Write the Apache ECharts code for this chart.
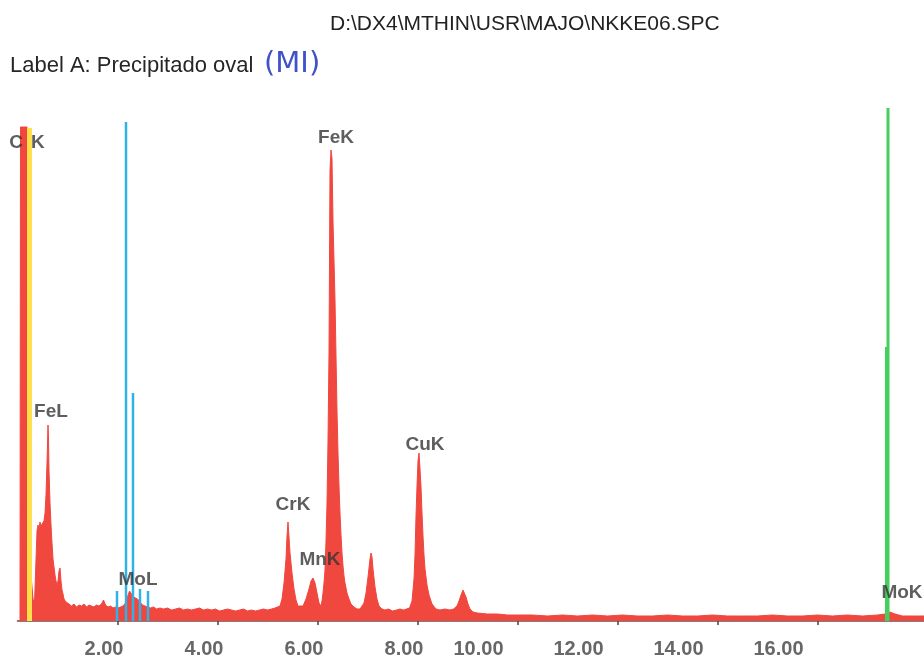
<!DOCTYPE html>
<html>
<head>
<meta charset="utf-8">
<script src="https://cdn.jsdelivr.net/npm/echarts@6/dist/echarts.min.js"></script>
<style>
html,body{margin:0;padding:0;background:#fff}
#chart{width:924px;height:665px}
</style>
</head>
<body>
<div id="chart"></div>
<script>
// Header texts
const fileName = 'D:\\DX4\\MTHIN\\USR\\MAJO\\NKKE06.SPC';
const sampleLabel = 'Label A: Precipitado oval';
const sampleTag = '(MI)';

// EDS spectrum: [energy keV, counts]
const spectrum = [
  [0.00,0],[0.05,0],[0.06,494],[0.12,494],[0.19,494],[0.20,272],[0.24,270],[0.26,150],[0.28,40],[0.31,22],[0.34,18],[0.38,20],
  [0.39,90],[0.41,96],[0.43,92],[0.45,99],[0.47,94],[0.49,97],[0.51,95],[0.53,100],[0.55,108],[0.57,126],[0.59,158],
  [0.61,196],[0.62,182],[0.63,150],[0.65,118],[0.67,96],[0.69,78],[0.71,62],[0.73,54],[0.75,46],[0.77,40],[0.79,36],
  [0.81,40],[0.83,50],[0.85,53],[0.87,40],[0.89,31],[0.91,27],[0.93,22],[0.95,24],[0.97,19],[0.99,18],
  [1.03,17],[1.08,15],[1.13,17],[1.18,14],[1.23,16],[1.28,15],[1.33,17],[1.38,14],[1.43,16],[1.48,15],[1.53,14],
  [1.58,16],[1.63,15],[1.68,17],[1.72,21],[1.76,16],[1.81,14],[1.86,15],[1.91,13],[1.96,14],[2.01,13],
  [2.06,14],[2.11,15],[2.16,18],[2.20,24],[2.24,30],[2.28,27],[2.32,24],[2.36,26],[2.40,22],[2.45,19],[2.50,16],
  [2.55,15],[2.60,14],[2.66,13],[2.72,14],[2.78,12],
  [2.85,13],[2.92,12],[3.00,13],[3.08,11],[3.16,12],[3.24,13],[3.32,11],[3.40,12],[3.48,11],[3.56,12],[3.64,13],
  [3.72,11],[3.80,12],[3.88,11],[3.96,12],[4.04,10],[4.12,11],[4.20,12],[4.28,11],[4.36,10],[4.44,11],[4.52,12],
  [4.60,10],[4.68,11],[4.76,10],[4.84,11],[4.92,12],[5.00,11],[5.08,12],[5.15,13],[5.20,14],
  [5.25,15],[5.29,22],[5.33,38],[5.37,62],[5.39,85],[5.41,99],[5.43,84],[5.45,68],[5.49,48],[5.53,32],[5.57,21],
  [5.61,15],[5.65,13],
  [5.71,15],[5.77,22],[5.83,32],[5.87,40],[5.91,43],[5.95,38],[5.99,28],[6.03,18],[6.07,15],
  [6.09,20],[6.11,28],[6.13,38],[6.15,51],[6.17,80],[6.19,118],[6.21,180],[6.23,268],[6.25,451],[6.27,471],[6.29,462],
  [6.31,400],[6.33,360],[6.35,321],[6.37,265],[6.39,210],[6.41,168],[6.43,135],[6.45,108],[6.47,86],[6.49,68],
  [6.51,55],[6.53,45],[6.55,38],[6.59,28],[6.63,22],[6.67,17],[6.73,14],[6.79,12],[6.85,12],
  [6.89,13],[6.93,18],[6.97,28],[7.01,44],[7.05,62],[7.07,68],[7.09,64],[7.11,52],[7.15,34],[7.19,22],[7.23,15],[7.29,12],
  [7.35,11],[7.42,12],[7.50,10],[7.58,11],[7.65,12],[7.72,11],[7.78,12],[7.84,13],
  [7.87,14],[7.89,20],[7.93,42],[7.95,66],[7.97,105],[7.99,135],[8.01,160],[8.03,168],[8.05,152],[8.07,134],
  [8.09,108],[8.11,85],[8.13,66],[8.15,52],[8.19,36],[8.23,26],[8.29,17],[8.37,12],
  [8.45,11],[8.55,12],[8.65,11],[8.72,12],
  [8.75,12],[8.79,15],[8.83,20],[8.87,26],[8.91,31],[8.93,30],[8.97,24],[9.01,17],[9.05,12],[9.11,9],
  [9.20,8],[9.40,7],[9.60,7],[9.80,6],[10.00,6],[10.30,6],[10.60,5],[10.90,6],[11.20,5],[11.50,6],[11.80,5],
  [12.10,6],[12.40,5],[12.70,5],[13.00,6],[13.30,5],[13.60,5],[13.90,6],[14.20,5],[14.50,5],[14.80,5],[15.10,6],
  [15.40,5],[15.70,5],[16.00,6],[16.30,5],[16.60,6],[16.90,5],[17.20,6],[17.35,7],[17.45,9],[17.55,7],[17.70,5],
  [18.00,5],[18.13,5]
];

// Element marker lines: [energy keV, height in counts]
const carbonLines = [[0.24, 493]];
const molyLLines = [[1.99, 30], [2.17, 499], [2.31, 228], [2.45, 32], [2.61, 30]];
const molyKLines = [[17.38, 274], [17.41, 513]];

// Peak identification labels
const peakNames = ['C K', 'FeL', 'MoL', 'CrK', 'MnK', 'FeK', 'CuK', 'MoK'];
const peakEnergy = [0.19, 0.67, 2.41, 5.51, 6.05, 6.37, 8.15, 17.69];
const peakLabelCounts = [478, 209, 41, 116, 61, 483, 176, 28];

// Energy axis
const tickValues = [2, 4, 6, 8, 10, 12, 14, 16];
const tickLabels = ['2.00', '4.00', '6.00', '8.00', '10.00', '12.00', '14.00', '16.00'];

function markerSeries(lines, color, width) {
  const data = [];
  lines.forEach(([e, h]) => { data.push([e, 0], [e, h], [e, null]); });
  return {
    type: 'line', data, showSymbol: false, symbol: 'none', connectNulls: false,
    lineStyle: { color, width }, z: 4, silent: true
  };
}

const chart = echarts.init(document.getElementById('chart'), null, { renderer: 'canvas' });
const sans = 'Liberation Sans, Arial, sans-serif';
const tickFont = { fontFamily: sans, fontWeight: 'bold', fontSize: 20, color: '#676767' };
const peakFont = { fontFamily: sans, fontWeight: 'bold', fontSize: 19, color: '#363636' };

chart.setOption({
  animation: false,
  backgroundColor: '#ffffff',
  title: [
    { text: fileName, left: 325, top: 9,
      textStyle: { fontFamily: sans, fontWeight: 'normal', fontSize: 21, color: '#222' } },
    { text: sampleLabel, left: 5, top: 50,
      textStyle: { fontFamily: sans, fontWeight: 'normal', fontSize: 22, color: '#262626' } },
    { text: sampleTag, left: 259, top: 45,
      textStyle: { fontFamily: 'DejaVu Sans, sans-serif', fontWeight: 'normal', fontSize: 29, color: '#3f52c9' } }
  ],
  grid: { left: 17.5, right: 0, top: 101, bottom: 44 },
  xAxis: {
    type: 'value', min: 0, max: 18.13, offset: 6,
    axisLine: { show: true, lineStyle: { color: '#555', width: 1.5 } },
    axisTick: { show: true, customValues: tickValues, length: 4, lineStyle: { color: '#444', width: 1.5 } },
    splitLine: { show: false },
    axisLabel: {
      customValues: tickValues, margin: 12,
      formatter: v => {
        const txt = tickLabels[tickValues.indexOf(v)];
        return '{' + (v >= 10 ? 'f' : 'n') + '|' + txt + '}';
      },
      rich: {
        n: Object.assign({ padding: [0, 27, 0, 0] }, tickFont),
        f: Object.assign({ padding: [0, 78, 0, 0] }, tickFont)
      }
    }
  },
  yAxis: { type: 'value', min: 0, max: 520, show: false, splitLine: { show: false } },
  series: [
    {
      type: 'line', data: spectrum, showSymbol: false, symbol: 'none',
      lineStyle: { color: '#f0473f', width: 1 },
      areaStyle: { color: '#f0473f', opacity: 1 },
      z: 2, silent: true
    },
    markerSeries(carbonLines, '#ffe04a', 5),
    markerSeries(molyLLines, '#2fb3e6', 2.5),
    markerSeries(molyKLines, '#45cf5c', 3),
    {
      type: 'scatter', symbolSize: 1, itemStyle: { color: 'rgba(0,0,0,0)' }, z: 6, silent: true,
      data: peakNames.map((n, i) => ({ name: n, value: [peakEnergy[i], peakLabelCounts[i]] })),
      label: Object.assign({
        show: true, position: 'inside',
        formatter: p => p.name === 'C K' ? '{c|C}{k|K}' : p.name,
        rich: {
          c: Object.assign({ padding: [0, 8, 0, 0] }, peakFont),
          k: Object.assign({}, peakFont)
        }
      }, peakFont)
    }
  ]
});
</script>
</body>
</html>
